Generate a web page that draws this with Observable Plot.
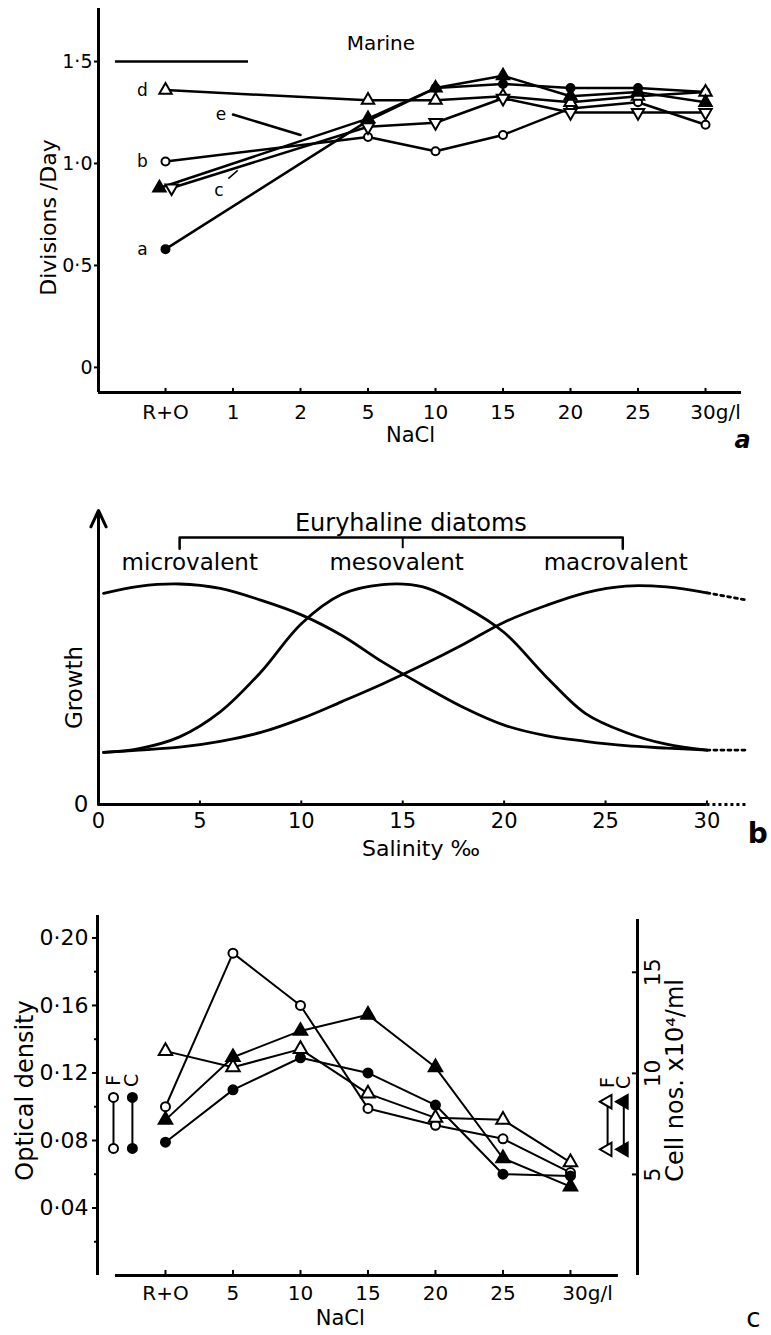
<!DOCTYPE html>
<html><head><meta charset="utf-8">
<script src="https://cdn.jsdelivr.net/npm/d3@7"></script>
<script src="https://cdn.jsdelivr.net/npm/@observablehq/plot@0.6"></script>
<style>
body{margin:0;background:#fff;}
#page{position:relative;width:771px;height:1335px;overflow:hidden;background:#fff;}
</style></head><body><div id="page"></div>
<script>
const FONT = "'DejaVu Sans', sans-serif";

// ================= Panel a data =================
const catsA = ["R+O","1","2","5","10","15","20","25","30"];
const tickLabelsA = ["R+O","1","2","5","10","15","20","25","30g/l"];
const xSeriesA = ["R+O","5","10","15","20","25","30"];
const aFilledCircle   = [0.58,1.21,1.37,1.39,1.37,1.37,1.35];
const bOpenCircle     = [1.01,1.13,1.06,1.14,1.27,1.30,1.19];
const cFilledTriangle = [0.88,1.22,1.37,1.43,1.33,1.35,1.30];
const cOpenTriangleDn = [0.88,1.18,1.20,1.32,1.25,1.25,1.25];
const dOpenTriangle   = [1.36,1.31,1.31,1.33,1.30,1.33,1.35];
const eX = ["1","2"];
const eValues = [1.24,1.14];
const yTicksA = [0,0.5,1.0,1.5];
const yTickLabelsA = ["0","0·5","1·0","1·5"];
const marineLevel = {v:1.5, from:-0.74, to:1.23};

// ================= Panel b data =================
const salinity    = [0.25,2,4,6,8,10,12,14,16,18,20,22,24,26,28,30];
const microvalent = [7.18,7.42,7.5,7.35,6.95,6.45,5.75,4.85,4.05,3.3,2.7,2.35,2.15,2.0,1.92,1.85];
const mesovalent  = [1.77,1.9,2.3,3.15,4.5,6.15,7.15,7.48,7.4,6.75,5.85,4.4,3.1,2.45,2.05,1.85];
const macrovalent = [1.77,1.85,1.95,2.15,2.45,2.92,3.5,4.1,4.75,5.45,6.2,6.75,7.2,7.43,7.4,7.2];
const tailX = [30,32];
const macroTail = [7.2,6.95];
const lowTail = [1.85,1.85];
const xTicksB = [0,5,10,15,20,25,30];
const bracketEnds = [4,25.85];
const bracketMid = 15;
const groupNames = ["microvalent","mesovalent","macrovalent"];
const groupCentres = [4.5,14.7,25.5];

// ================= Panel c data =================
const catsC = ["R+O","5","10","15","20","25","30"];
const tickLabelsC = ["R+O","5","10","15","20","25","30g/l"];
const odOpenCircle   = [0.100,0.191,0.160,0.099,0.089,0.081,0.061];
const odFilledCircle = [0.079,0.110,0.129,0.120,0.101,0.060,0.059];
const cellsOpenTriangle   = [11.1,10.3,11.2,9.0,7.8,7.7,5.6];
const cellsFilledTriangle = [7.7,10.8,12.1,12.9,10.3,5.8,4.4];
const odTicks = [0.04,0.08,0.12,0.16,0.20];
const odMinorTicks = [0.02,0.06,0.10,0.14,0.18];
const cellTicks = [5,10,15];
const cellsPerOD = 83.5;            // alignment of right axis with left axis
const controlOD = [0.1055,0.0753];  // F and C controls (optical density)
const controlCells = [8.6,6.24];    // F and C controls (cell numbers)

function place(svg, top){
  svg.style.position="absolute"; svg.style.top=top+"px"; svg.style.left="0px";
  svg.style.maxWidth="none";
  document.getElementById("page").appendChild(svg);
}
const baseStyle = {fontFamily: FONT, background: "transparent", color: "black", overflow: "visible"};

// ---------------- Panel a ----------------
{
  const xDom = [-0.9926, 8.533];
  const yDom = [-0.123, 1.76];
  const xi = c => catsA.indexOf(c);
  const series = [
    {id:"b", vals:bOpenCircle, sym:"circle", fill:"white", rot:0, off:0},
    {id:"d", vals:dOpenTriangle, sym:"triangle", fill:"white", rot:0, off:0},
    {id:"c2", vals:cOpenTriangleDn, sym:"triangle", fill:"white", rot:180, off:0.09},
    {id:"c1", vals:cFilledTriangle, sym:"triangle", fill:"black", rot:0, off:-0.09},
    {id:"a", vals:aFilledCircle, sym:"circle", fill:"black", rot:0, off:0}
  ];
  // the two coincident R+O triangles are drawn side by side, as in the figure
  const rows = series.flatMap(s => s.vals.map((v,i)=>({id:s.id, x:xi(xSeriesA[i]) + (i===0 ? s.off : 0), v, sym:s.sym, fill:s.fill, rot:s.rot})));
  const eRows = eX.map((c,i)=>({x:xi(c), v:eValues[i]}));
  const firstLabels = [
    {t:"d", x:0, v:dOpenTriangle[0]},
    {t:"b", x:0, v:bOpenCircle[0]},
    {t:"a", x:0, v:aFilledCircle[0]}
  ];
  const plotA = Plot.plot({
    width:771, height:460, marginLeft:98, marginRight:30, marginTop:8, marginBottom:68,
    style: baseStyle,
    x:{domain:xDom, label:null}, y:{domain:yDom, label:null},
    marks:[
      Plot.ruleX([xDom[0]], {strokeWidth:3}),
      Plot.ruleY([yDom[0]], {strokeWidth:3}),
      Plot.axisY({ticks:yTicksA, tickFormat:d=>yTickLabelsA[yTicksA.indexOf(d)], tickSize:4, tickPadding:2, fontSize:19, strokeWidth:2, label:null}),
      Plot.ruleX(d3.range(catsA.length), {y1:yDom[0], y2:yDom[0]+0.02, strokeWidth:2}),
      Plot.axisX({ticks:d3.range(8), tickFormat:i=>tickLabelsA[i], tickSize:0, tickPadding:12, fontSize:20, label:null}),
      Plot.axisX({ticks:[8], tickFormat:()=>tickLabelsA[8], tickSize:0, tickPadding:12, fontSize:20, dx:10, label:null}),
      Plot.ruleY([marineLevel], {y:"v", x1:"from", x2:"to", strokeWidth:2.5}),
      Plot.text(["Marine"], {x:3.19, y:1.59, fontSize:20, letterSpacing:"0.5px", text:d=>d}),
      Plot.line(rows, {x:"x", y:"v", z:"id", stroke:"black", strokeWidth:2.5}),
      Plot.line(eRows, {x:"x", y:"v", stroke:"black", strokeWidth:2.5}),
      Plot.dot(rows.filter(r=>r.sym==="circle"), {x:"x", y:"v", symbol:"circle", fill:"fill", r:4, stroke:"black", strokeWidth:2}),
      Plot.dot(rows.filter(r=>r.sym==="triangle"), {x:"x", y:"v", symbol:"triangle", fill:"fill", rotate:"rot", r:4.6, stroke:"black", strokeWidth:2}),
      Plot.text(firstLabels, {x:"x", y:"v", text:"t", dx:-23, fontSize:17}),
      Plot.text([eRows[0]], {x:"x", y:"v", text:()=>"e", dx:-12, fontSize:17, stroke:"white", strokeWidth:4, paintOrder:"stroke", fill:"black"}),
      Plot.text([{t:"c", x:0.79, v:0.865}], {x:"x", y:"v", text:"t", fontSize:17}),
      Plot.link([{x1:0.93, y1:0.926, x2:1.07, y2:0.966}], {x1:"x1", y1:"y1", x2:"x2", y2:"y2", strokeWidth:1.5}),
      Plot.text(["Divisions /Day"], {x:xDom[0], y:0.735, dx:-50, rotate:-90, fontSize:22, text:d=>d, letterSpacing:"1.5px"}),
      Plot.text(["NaCl"], {x:3.63, y:-0.333, fontSize:21, text:d=>d}),
      Plot.text(["a"], {x:8.55, y:-0.358, fontSize:24, fontWeight:"bold", fontStyle:"italic", text:d=>d})
    ]
  });
  place(plotA, 0);
}

// ---------------- Panel b ----------------
{
  const xDom = [0,32], yDom = [0,10];
  const curves = [
    ...salinity.map((s,i)=>({id:"micro", s, g:microvalent[i]})),
    ...salinity.map((s,i)=>({id:"meso", s, g:mesovalent[i]})),
    ...salinity.map((s,i)=>({id:"macro", s, g:macrovalent[i]}))
  ];
  const tails = [
    ...tailX.map((s,i)=>({id:"macro", s, g:macroTail[i]})),
    ...tailX.map((s,i)=>({id:"low", s, g:lowTail[i]}))
  ];
  const bracket = [
    {s:bracketEnds[0], g:8.7},{s:bracketEnds[0], g:9.08},{s:bracketEnds[1], g:9.08},{s:bracketEnds[1], g:8.7}
  ];
  const plotB = Plot.plot({
    width:771, height:410, marginLeft:98, marginRight:24, marginTop:50, marginBottom:66,
    style: baseStyle,
    x:{domain:xDom, label:null}, y:{domain:yDom, label:null},
    marks:[
      Plot.arrow([{x1:0,y1:0,x2:0,y2:10}], {x1:"x1",y1:"y1",x2:"x2",y2:"y2", strokeWidth:3, headLength:9, headAngle:50}),
      Plot.ruleY([0], {x1:0, x2:30, strokeWidth:3}),
      Plot.ruleY([0], {x1:30, x2:32, strokeWidth:3, strokeDasharray:"3,3"}),
      Plot.ruleX(xTicksB, {y1:0, y2:0.12, strokeWidth:2}),
      Plot.axisX({ticks:xTicksB, tickSize:0, tickPadding:9, fontSize:21, label:null}),
      Plot.axisY({ticks:[0], tickSize:0, tickPadding:10, fontSize:23, label:null}),
      Plot.line(curves, {x:"s", y:"g", z:"id", curve:"catmull-rom", strokeWidth:2.8, stroke:"black"}),
      Plot.line(tails, {x:"s", y:"g", z:"id", strokeWidth:2.8, stroke:"black", strokeDasharray:"3,4"}),
      Plot.line(bracket, {x:"s", y:"g", strokeWidth:2.5, stroke:"black"}),
      Plot.ruleX([bracketMid], {y1:8.7, y2:9.08, strokeWidth:2}),
      Plot.text(["Euryhaline diatoms"], {x:15.4, y:9.55, fontSize:24, letterSpacing:"1.5px", text:d=>d}),
      Plot.text(groupNames, {x:(d,i)=>groupCentres[i], y:8.23, fontSize:23, letterSpacing:"0.5px", text:d=>d}),
      Plot.text(["Growth"], {x:0, y:3.98, dx:-24, rotate:-90, fontSize:23, letterSpacing:"1px", text:d=>d}),
      Plot.text(["Salinity ‰"], {x:15.9, y:-1.5, fontSize:22, letterSpacing:"1px", text:d=>d}),
      Plot.text(["b"], {x:32.5, y:-0.99, fontSize:28, fontWeight:"bold", text:d=>d})
    ]
  });
  place(plotB, 460);
}

// ---------------- Panel c ----------------
{
  const xDom = [-1.007, 6.993], yDom = [0, 0.2133];
  const xi = c => catsC.indexOf(c);
  const series = [
    {id:"oc", vals:odOpenCircle, sym:"circle", fill:"white"},
    {id:"fc", vals:odFilledCircle, sym:"circle", fill:"black"},
    {id:"ot", vals:cellsOpenTriangle.map(c=>c/cellsPerOD), sym:"triangle", fill:"white"},
    {id:"ft", vals:cellsFilledTriangle.map(c=>c/cellsPerOD), sym:"triangle", fill:"black"}
  ];
  const rows = series.flatMap(s => s.vals.map((v,i)=>({id:s.id, x:xi(catsC[i]), v, sym:s.sym, fill:s.fill})));
  const leftLegend = [
    {t:"F", x:-0.77, fill:"white"},
    {t:"C", x:-0.49, fill:"black"}
  ];
  const leftPts = leftLegend.flatMap(d => controlOD.map(v=>({x:d.x, v, fill:d.fill})));
  const rightLegend = [
    {t:"F", x:6.55, fill:"white"},
    {t:"C", x:6.79, fill:"black"}
  ];
  const rightPts = rightLegend.flatMap(d => controlCells.map(c=>({x:d.x, v:c/cellsPerOD, fill:d.fill})));
  const plotC = Plot.plot({
    width:771, height:465, marginLeft:97, marginRight:134, marginTop:45, marginBottom:60,
    style: baseStyle,
    x:{domain:xDom, label:null}, y:{domain:yDom, label:null},
    marks:[
      Plot.ruleX([xDom[0]], {strokeWidth:3}),
      Plot.ruleX([xDom[1]], {y1:0, y2:0.211, strokeWidth:3}),
      Plot.ruleY([0], {x1:-0.74, x2:6.71, strokeWidth:3}),
      Plot.axisY({ticks:odTicks, tickFormat:d=>d.toFixed(2).replace(".","·"), tickSize:5, tickPadding:4, fontSize:22, strokeWidth:2, label:null}),
      Plot.axisY({ticks:odMinorTicks, tickFormat:()=>"", tickSize:3, strokeWidth:2, label:null}),
      Plot.ruleY(cellTicks.map(c=>c/cellsPerOD), {x1:xDom[1]-0.075, x2:xDom[1], strokeWidth:2}),
      Plot.text(cellTicks, {x:xDom[1], y:c=>c/cellsPerOD, text:c=>String(c), rotate:-90, dx:15, fontSize:22}),
      Plot.ruleX(d3.range(catsC.length), {y1:0, y2:0.003, strokeWidth:2}),
      Plot.axisX({ticks:d3.range(6), tickFormat:i=>tickLabelsC[i], tickSize:0, tickPadding:10, fontSize:20, label:null}),
      Plot.axisX({ticks:[6], tickFormat:()=>tickLabelsC[6], tickSize:0, tickPadding:10, fontSize:20, dx:17, label:null}),
      Plot.line(rows, {x:"x", y:"v", z:"id", stroke:"black", strokeWidth:2}),
      Plot.dot(rows.filter(r=>r.sym==="circle"), {x:"x", y:"v", symbol:"circle", fill:"fill", r:4.5, stroke:"black", strokeWidth:2}),
      Plot.dot(rows.filter(r=>r.sym==="triangle"), {x:"x", y:"v", symbol:"triangle", fill:"fill", r:5, stroke:"black", strokeWidth:2}),
      // control legends
      Plot.ruleX(leftLegend, {x:"x", y1:controlOD[1], y2:controlOD[0], strokeWidth:2}),
      Plot.dot(leftPts, {x:"x", y:"v", fill:"fill", r:4.5, stroke:"black", strokeWidth:2}),
      Plot.text(leftLegend, {x:"x", y:0.1156, text:"t", rotate:-90, fontSize:19}),
      Plot.ruleX(rightLegend, {x:"x", y1:controlCells[1]/cellsPerOD, y2:controlCells[0]/cellsPerOD, strokeWidth:2}),
      Plot.dot(rightPts, {x:"x", y:"v", symbol:"triangle", rotate:-90, fill:"fill", r:5, stroke:"black", strokeWidth:2}),
      Plot.text(rightLegend, {x:"x", y:9.55/cellsPerOD, text:"t", rotate:-90, fontSize:19}),
      Plot.text(["Optical density"], {x:xDom[0], y:0.1096, dx:-72, rotate:-90, fontSize:24, letterSpacing:"1.5px", text:d=>d}),
      Plot.text(["Cell nos. x10⁴/ml"], {x:xDom[1], y:0.1156, dx:38, rotate:-90, fontSize:24, letterSpacing:"1.5px", text:d=>d}),
      Plot.text(["NaCl"], {x:2.59, y:-0.0255, fontSize:21, text:d=>d}),
      Plot.text(["c"], {x:8.71, y:-0.0255, fontSize:26, text:d=>d})
    ]
  });
  place(plotC, 870);
}
</script>
</body></html>
